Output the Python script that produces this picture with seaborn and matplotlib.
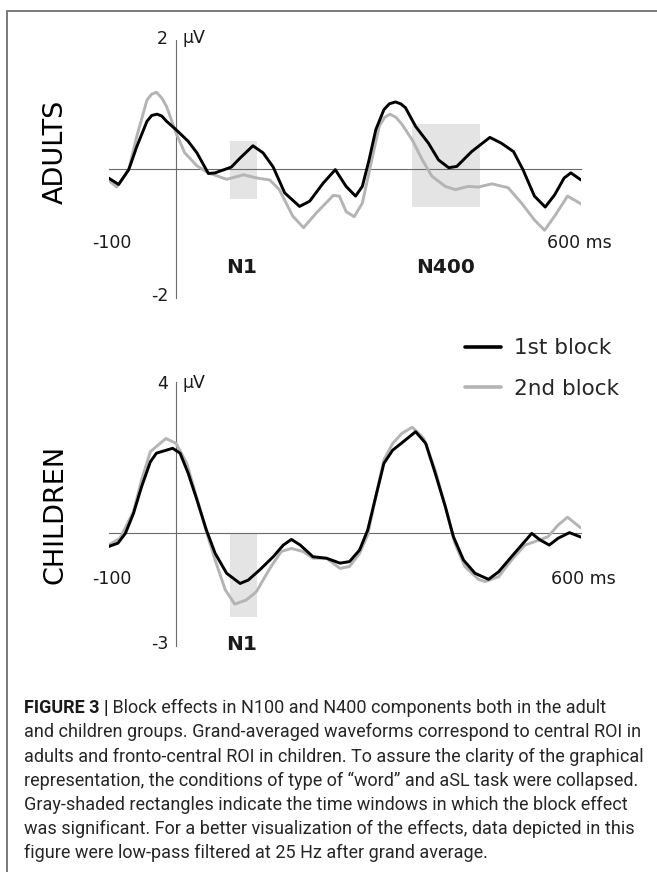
import matplotlib.pyplot as plt
import seaborn as sns
import pandas as pd
from matplotlib.lines import Line2D
from matplotlib.patches import Rectangle

# ---- data (ms, microvolts) ----
adults_t_1st = [-100, -85, -70, -58, -43, -36, -28, -21, -14, 0, 18, 31, 48, 58, 82, 95,
                114, 129, 144, 161, 183, 198, 218, 236, 252, 266, 276, 286, 296, 308,
                316, 325, 333, 340, 355, 374, 389, 404, 416, 438, 465, 482, 500, 514,
                531, 547, 561, 575, 585, 600]
adults_v_1st = [-0.14, -0.24, -0.01, 0.35, 0.74, 0.83, 0.85, 0.82, 0.74, 0.61, 0.43,
                0.25, -0.07, -0.06, 0.03, 0.17, 0.36, 0.25, 0.03, -0.37, -0.58, -0.50,
                -0.22, -0.01, -0.27, -0.42, -0.27, 0.14, 0.61, 0.92, 1.01, 1.04, 1.01,
                0.95, 0.66, 0.40, 0.14, 0.02, 0.04, 0.27, 0.49, 0.40, 0.27, -0.01,
                -0.42, -0.59, -0.40, -0.14, -0.06, -0.17]
adults_t_2nd = [-100, -88, -70, -58, -43, -36, -29, -21, -14, 0, 13, 31, 48, 75, 100,
                120, 139, 153, 173, 189, 208, 233, 242, 252, 264, 276, 289, 301, 309,
                317, 326, 335, 350, 365, 379, 399, 414, 433, 448, 468, 492, 512, 531,
                546, 561, 580, 600]
adults_v_2nd = [-0.17, -0.28, -0.01, 0.51, 1.07, 1.16, 1.19, 1.10, 0.97, 0.56, 0.25,
                0.05, -0.06, -0.16, -0.09, -0.14, -0.17, -0.32, -0.73, -0.91, -0.68,
                -0.41, -0.42, -0.66, -0.74, -0.53, 0.09, 0.66, 0.80, 0.85, 0.80, 0.69,
                0.45, 0.14, -0.11, -0.27, -0.32, -0.27, -0.28, -0.23, -0.29, -0.53,
                -0.79, -0.95, -0.73, -0.42, -0.54]

children_t_1st = [-100, -86, -75, -63, -51, -38, -29, -16, -5, 6, 18, 31, 45, 58, 75, 95,
                  107, 124, 144, 159, 171, 184, 203, 223, 243, 257, 272, 284, 296, 308,
                  321, 335, 355, 370, 384, 399, 411, 426, 443, 463, 478, 497, 512, 527,
                  539, 553, 566, 583, 600]
children_v_1st = [-0.37, -0.28, -0.02, 0.51, 1.22, 1.88, 2.11, 2.18, 2.24, 2.11, 1.58,
                  0.87, 0.07, -0.55, -1.08, -1.35, -1.26, -0.99, -0.64, -0.33, -0.18,
                  -0.33, -0.64, -0.68, -0.81, -0.77, -0.46, 0.07, 0.96, 1.84, 2.19,
                  2.39, 2.68, 2.37, 1.58, 0.69, -0.11, -0.73, -1.08, -1.24, -1.04,
                  -0.64, -0.33, -0.02, -0.19, -0.33, -0.15, 0.00, -0.12]
children_t_2nd = [-100, -83, -63, -51, -38, -15, 0, 16, 31, 45, 58, 73, 87, 104, 119,
                  139, 156, 171, 188, 203, 223, 243, 257, 272, 284, 296, 308, 321, 335,
                  350, 367, 384, 399, 413, 428, 448, 458, 478, 497, 517, 536, 551, 566,
                  580, 600]
children_v_2nd = [-0.33, -0.15, 0.56, 1.40, 2.15, 2.50, 2.37, 1.84, 0.91, 0.03, -0.73,
                  -1.52, -1.90, -1.79, -1.57, -0.95, -0.50, -0.42, -0.50, -0.68, -0.68,
                  -0.95, -0.90, -0.55, -0.06, 0.96, 1.93, 2.37, 2.64, 2.80, 2.50, 1.66,
                  0.69, -0.28, -0.90, -1.24, -1.30, -1.17, -0.73, -0.33, -0.21, -0.11,
                  0.20, 0.41, 0.12]

# significant windows: (start ms, end ms, low uV, high uV)
adults_windows = [(80, 120, -0.47, 0.44), (350, 450, -0.59, 0.69)]
children_windows = [(80, 120, -2.23, 0.0)]

blocks = ["1st block", "2nd block"]
colors = {"1st block": "#000000", "2nd block": "#b4b4b4"}

caption_lines = [
    " Block effects in N100 and N400 components both in the adult",
    "and children groups. Grand-averaged waveforms correspond to central ROI in",
    "adults and fronto-central ROI in children. To assure the clarity of the graphical",
    "representation, the conditions of type of \u201cword\u201d and aSL task were collapsed.",
    "Gray-shaded rectangles indicate the time windows in which the block effect",
    "was significant. For a better visualization of the effects, data depicted in this",
    "figure were low-pass filtered at 25 Hz after grand average.",
]

W, H = 657, 872


def px(x, y):
    return x / W, 1 - y / H


def to_df(t1, v1, t2, v2):
    a = pd.DataFrame({"time": t1, "uV": v1, "block": blocks[0]})
    b = pd.DataFrame({"time": t2, "uV": v2, "block": blocks[1]})
    return pd.concat([a, b], ignore_index=True)


sns.set_style("white")
plt.rcParams["font.family"] = ["DejaVu Sans"]

fig = plt.figure(figsize=(W / 100, H / 100), dpi=100)

# axes rectangles placed so data (-100..600) lines up with the reference
ax_a = fig.add_axes([108.5 / W, 1 - 298 / H, 472.5 / W, 258 / H])
ax_c = fig.add_axes([108.5 / W, 1 - 645.6 / H, 472.5 / W, 263.6 / H])

panels = [
    (ax_a, to_df(adults_t_1st, adults_v_1st, adults_t_2nd, adults_v_2nd),
     adults_windows, (-2, 2), [-2, -1, 1, 2]),
    (ax_c, to_df(children_t_1st, children_v_1st, children_t_2nd, children_v_2nd),
     children_windows, (-3, 4), [-3, -2, -1, 1, 2, 3, 4]),
]

for ax, df, windows, ylim, yticks in panels:
    ax.set_facecolor("none")
    for x0, x1, y0, y1 in windows:
        ax.add_patch(Rectangle((x0, y0), x1 - x0, y1 - y0, facecolor="#e4e4e4",
                               edgecolor="none", zorder=0.5))
    sns.lineplot(data=df, x="time", y="uV", hue="block",
                 hue_order=["2nd block", "1st block"], palette=colors,
                 estimator=None, sort=False, linewidth=2.1, legend=False, ax=ax)
    for ln in ax.lines:
        ln.set_zorder(3)
        ln.set_solid_capstyle("round")
        ln.set_solid_joinstyle("round")
    ax.set_xlim(-100, 600)
    ax.set_ylim(*ylim)
    for side in ["top", "right"]:
        ax.spines[side].set_visible(False)
    ax.spines["left"].set_position(("data", 0))
    ax.spines["bottom"].set_position(("data", 0))
    for side in ["left", "bottom"]:
        ax.spines[side].set_color("#6a6a6a")
        ax.spines[side].set_linewidth(0.8)
    ax.set_xticks(range(-100, 601, 100))
    ax.set_yticks(yticks)
    ax.set_xticklabels([])
    ax.set_yticklabels([])
    ax.tick_params(axis="x", direction="in", length=3, width=0.8, color="#6a6a6a")
    ax.tick_params(axis="y", direction="inout", length=6, width=0.8, color="#6a6a6a")
    ax.set_xlabel("")
    ax.set_ylabel("")

tick_fs = 12.5
txt = "#1a1a1a"
# adults labels
fig.text(*px(168, 39), "2", ha="right", va="center", fontsize=tick_fs, color=txt)
fig.text(*px(183, 38), "\u00b5V", ha="left", va="center", fontsize=tick_fs, color=txt)
fig.text(*px(168, 296), "-2", ha="right", va="center", fontsize=tick_fs, color=txt)
fig.text(*px(112, 243), "-100", ha="center", va="center", fontsize=tick_fs, color=txt)
fig.text(*px(579, 243), "600 ms", ha="center", va="center", fontsize=tick_fs, color=txt)
fig.text(*px(242, 267), "N1", ha="center", va="center", fontsize=14.5,
         fontweight="bold", color=txt)
fig.text(*px(446, 267), "N400", ha="center", va="center", fontsize=14.5,
         fontweight="bold", color=txt)
fig.text(*px(56, 152), "ADULTS", ha="center", va="center", rotation=90,
         fontsize=19.5, color="#000000")

# children labels
fig.text(*px(168, 384), "4", ha="right", va="center", fontsize=tick_fs, color=txt)
fig.text(*px(183, 383), "\u00b5V", ha="left", va="center", fontsize=tick_fs, color=txt)
fig.text(*px(168, 644), "-3", ha="right", va="center", fontsize=tick_fs, color=txt)
fig.text(*px(112, 579), "-100", ha="center", va="center", fontsize=tick_fs, color=txt)
fig.text(*px(583, 579), "600 ms", ha="center", va="center", fontsize=tick_fs, color=txt)
fig.text(*px(242, 644), "N1", ha="center", va="center", fontsize=14.5,
         fontweight="bold", color=txt)
fig.text(*px(56, 514), "CHILDREN", ha="center", va="center", rotation=90,
         fontsize=19.5, color="#000000")

# legend
handles = [Line2D([], [], color=colors[b], linewidth=2.6) for b in blocks]
fig.legend(handles, blocks, loc="center left", bbox_to_anchor=px(465, 368.5),
           frameon=False, fontsize=15.5, handlelength=1.65, handletextpad=0.62,
           labelspacing=0.95, borderpad=0, borderaxespad=0)

# frame lines of the figure panel
fig.add_artist(Line2D([7 / W, 1], [1 - 11.5 / H, 1 - 11.5 / H], color="#7a7a7a",
                      linewidth=1.4))
fig.add_artist(Line2D([7 / W, 7 / W], [1 - 11.5 / H, 0], color="#7a7a7a",
                      linewidth=1.4))

# caption: pick a size so the widest line ends near the right edge, like the print
cap_font = ["Roboto", "DejaVu Sans"]
cap_color = "#262626"
renderer = fig.canvas.get_renderer()
widest = 0
for line in caption_lines[1:]:
    probe = fig.text(0, 0, line, fontsize=12, family=cap_font)
    widest = max(widest, probe.get_window_extent(renderer).width)
    probe.remove()
cap_fs = 12 * 614 / widest

x0 = 24
line_y = [708, 732, 757, 781, 805, 829, 853]
bold = fig.text(*px(x0, line_y[0]), "FIGURE 3 |", fontsize=cap_fs, family=cap_font,
                fontweight="bold", color="#1a1a1a", va="center", ha="left")
bw = bold.get_window_extent(renderer).width
fig.text(*px(x0 + bw, line_y[0]), caption_lines[0], fontsize=cap_fs, family=cap_font,
         fontweight="normal", color=cap_color, va="center", ha="left")
for y, line in zip(line_y[1:], caption_lines[1:]):
    fig.text(*px(x0, y), line, fontsize=cap_fs, family=cap_font, fontweight="normal",
             color=cap_color, va="center", ha="left")

fig.savefig("out.png", dpi=100)
plt.close(fig)
